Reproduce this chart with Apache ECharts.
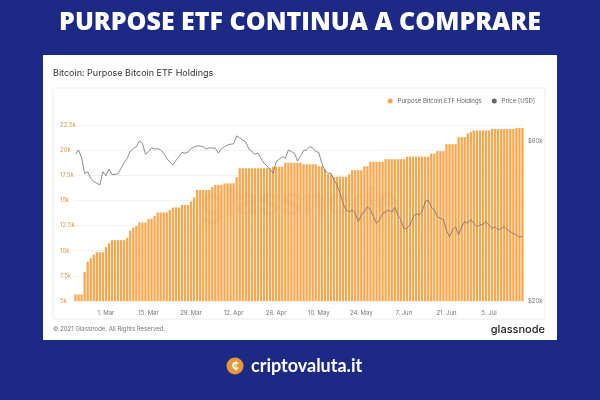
<!DOCTYPE html>
<html>
<head>
<meta charset="utf-8">
<script src="https://cdn.jsdelivr.net/npm/echarts@6/dist/echarts.min.js"></script>
<style>html,body{margin:0;padding:0;background:#1c2a85;}#c{width:600px;height:400px;}</style>
</head>
<body>
<div id="c"></div>
<script>
// Daily data from 19 Feb 2021 to 16 Jul 2021 (148 days)
const startDate = '2021-02-19';
const tickLabels = ['1. Mar','15. Mar','29. Mar','12. Apr','26. Apr','10. May','24. May','7. Jun','21. Jun','5. Jul'];
const holdings = [
5650,5650,5650,7900,8900,9250,9600,9850,9850,9850,
10350,10750,11050,11050,11050,11050,11050,11300,12000,12300,
12450,12800,12800,12800,13150,13200,13450,13800,13800,13800,
13800,14050,14300,14300,14300,14550,14550,14550,14900,15300,
16050,16050,16050,16050,16050,16350,16550,16550,16550,16700,
16700,16700,16700,17300,18200,18200,18200,18200,18200,18200,
18200,18200,18200,18200,18200,18350,18350,18350,18350,18750,
18750,18750,18750,18750,18750,18600,18600,18600,18600,18600,
18400,18400,18100,17600,17600,17350,17350,17350,17350,17350,
17600,18000,18000,18000,18000,18400,18400,18850,18850,18850,
18850,18850,19100,19100,19100,19100,19100,19100,19100,19350,
19350,19350,19350,19350,19350,19350,19350,19650,19650,19900,
19900,19900,20600,20600,20600,20600,21300,21300,21300,21650,
21800,21950,21950,21950,21950,21950,21950,22100,22100,22100,
22100,22100,22100,22100,22100,22200,22200,22200];
const priceUSD = [
54800,56400,53500,48000,48600,46500,45400,44900,44400,48600,
47300,49500,47700,47700,48000,49800,51800,53300,56000,57000,
57700,60000,59100,54800,55800,57300,56800,56900,56500,55200,
53300,52000,50900,52500,53900,55500,55200,55600,57000,57600,
58100,58000,57700,56800,57300,57200,57100,55200,56800,57800,
58400,58700,58900,62200,61300,60400,59600,56800,55800,54800,
55200,53300,51500,50600,49200,48100,52100,53000,53900,53300,
56400,55800,55200,52300,54000,56200,56400,57700,57300,55800,
55500,51500,49000,48100,48100,46000,44400,41900,39100,37400,
36800,37400,36500,34500,36100,37000,38200,37400,35700,34100,
34900,36500,36900,37400,36800,38100,36100,34900,32900,33000,
33700,35500,36500,36100,37000,39600,40000,38100,37400,35700,
35300,35000,32500,31100,32600,33300,31500,33300,34500,34100,
35000,34100,33300,33700,33900,34500,33700,32900,33300,32600,
32900,33300,32600,32200,31800,31500,31000,31200];

const months = ['Jan','Feb','Mar','Apr','May','Jun','Jul','Aug','Sep','Oct','Nov','Dec'];
const categories = holdings.map((_, i) => {
  const d = new Date(startDate + 'T00:00:00Z');
  d.setUTCDate(d.getUTCDate() + i);
  return d.getUTCDate() + '. ' + months[d.getUTCMonth()];
});

const chart = echarts.init(document.getElementById('c'), null, {renderer: 'canvas'});
const F = '"Inter","Noto Sans",sans-serif';
chart.setOption({
  backgroundColor: '#1c2a85',
  animation: false,
  graphic: [
    {type:'text', x:300, y:23, style:{text:'PURPOSE ETF CONTINUA A COMPRARE', fill:'#fff', font:'800 25px "Open Sans",sans-serif', align:'center', verticalAlign:'middle'}},
    {type:'rect', shape:{x:43,y:55,width:514,height:285}, style:{fill:'#fff'}, z:-10},
    {type:'rect', shape:{x:53,y:88,width:492,height:231}, style:{fill:'#fff', stroke:'#ececec', lineWidth:1}, z:-9},
    {type:'text', x:53, y:69, style:{text:'Bitcoin: Purpose Bitcoin ETF Holdings', fill:'#333', font:'9px '+F}},
    {type:'text', x:300, y:203, style:{text:'glassnode', fill:'rgba(190,140,90,0.11)', font:'600 40px '+F, align:'center', verticalAlign:'middle'}, z:5},
    {type:'text', x:53, y:326, style:{text:'© 2021 Glassnode. All Rights Reserved.', fill:'#777', font:'6px '+F}},
    {type:'text', x:545, y:330, style:{text:'glassnode', fill:'#222', font:'500 11px '+F, align:'right', verticalAlign:'middle'}},
    {type:'circle', shape:{cx:235,cy:366,r:8.5}, style:{fill:'#e8963a'}},
    {type:'text', x:235, y:366, style:{text:'₵', fill:'#fff', font:'bold 11px "DejaVu Sans",sans-serif', align:'center', verticalAlign:'middle'}},
    {type:'text', x:251, y:366, style:{text:'criptovaluta.it', fill:'#fff', font:'bold 18px Lato,"Open Sans",sans-serif', verticalAlign:'middle'}}
  ],
  legend: {
    right: 60, top: 93, itemWidth: 5, itemHeight: 5, itemGap: 10,
    textStyle: {fontSize: 6, color: '#666', fontFamily: F},
    data: [
      {name:'Purpose Bitcoin ETF Holdings', icon:'circle', itemStyle:{color:'#f5a54a'}},
      {name:'Price [USD]', icon:'circle', itemStyle:{color:'#666'}}
    ]
  },
  grid: {left: 74, right: 76, top: 125, bottom: 99},
  xAxis: {
    type: 'category', data: categories, boundaryGap: true,
    axisLine: {show: false}, axisTick: {show: false},
    axisLabel: {
      interval: (idx, val) => tickLabels.indexOf(val) >= 0,
      fontSize: 6, color: '#777', margin: 9, fontFamily: F
    }
  },
  yAxis: [
    {
      type: 'value', min: 5000, max: 22500, interval: 2500,
      axisLine: {show:false}, axisTick: {show:false},
      splitLine: {lineStyle: {color: '#efefef', width: 0.8}},
      axisLabel: {formatter: v => (v/1000) + 'k', fontSize: 6, color: '#e0994a', align: 'left', margin: 14, fontFamily: F}
    },
    {
      type: 'log', min: 20000, max: 67000, position: 'right',
      axisLine: {show:false}, axisTick: {show:false}, splitLine: {show:false},
      axisLabel: {customValues: [20000, 60000], formatter: v => '$' + Math.round(v/1000) + 'k', fontSize: 6, color: '#777', margin: 4, fontFamily: F}
    }
  ],
  series: [
    {name:'Purpose Bitcoin ETF Holdings', type:'bar', data: holdings, yAxisIndex: 0,
     barCategoryGap: '25%', itemStyle: {color: '#f6a84f'}, z: 2},
    {name:'Price [USD]', type:'line', data: priceUSD, yAxisIndex: 1, symbol: 'none',
     lineStyle: {color: '#707070', width: 0.8}, z: 3}
  ]
});
</script>
</body>
</html>
